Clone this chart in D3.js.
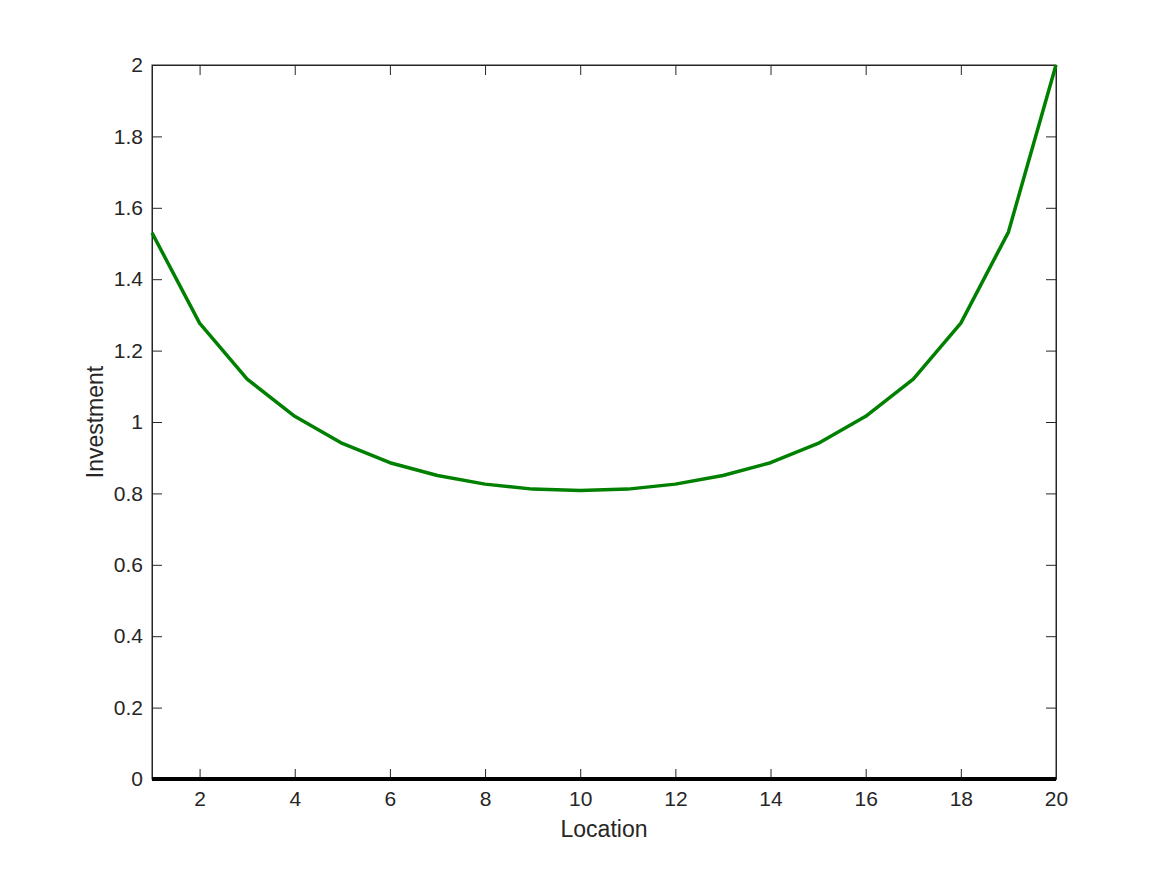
<!DOCTYPE html>
<html>
<head>
<meta charset="utf-8">
<script src="https://d3js.org/d3.v7.min.js"></script>
<style>
  html, body { margin: 0; padding: 0; background: #fff; }
  svg { display: block; }
  text { font-family: "Liberation Sans", Arial, Helvetica, sans-serif; fill: #262626; }
</style>
</head>
<body>
<script>
const locations = d3.range(1, 21);
const investment = [1.530, 1.277, 1.120, 1.016, 0.940, 0.886, 0.850, 0.826, 0.812, 0.808,
                    0.812, 0.826, 0.850, 0.886, 0.940, 1.016, 1.120, 1.277, 1.532, 2.000];
const baseline = locations.map(() => 0);
const xTicks = [2, 4, 6, 8, 10, 12, 14, 16, 18, 20];
const yTicks = [0, 0.2, 0.4, 0.6, 0.8, 1, 1.2, 1.4, 1.6, 1.8, 2];
const xLabel = "Location";
const yLabel = "Investment";

const W = 1167, H = 875;
const m = { left: 152, right: 1056, top: 65, bottom: 779 };

const svg = d3.select("body").append("svg").attr("width", W).attr("height", H);

const x = d3.scaleLinear().domain([1, 20]).range([m.left, m.right]);
const y = d3.scaleLinear().domain([0, 2]).range([m.bottom, m.top]);

const axisColor = "#262626";
const tickLen = 10;
const fs = 21;
const lfs = 23;

svg.append("rect")
  .attr("x", m.left).attr("y", m.top)
  .attr("width", m.right - m.left).attr("height", m.bottom - m.top)
  .attr("fill", "none").attr("stroke", axisColor).attr("stroke-width", 1);

const xAxis = d3.axisBottom(x).tickValues(xTicks).tickSizeInner(-tickLen).tickSizeOuter(0).tickPadding(12)
  .tickFormat(d3.format("d"));
const gx = svg.append("g").attr("transform", `translate(0,${m.bottom})`).call(xAxis);
const gxt = svg.append("g").attr("transform", `translate(0,${m.top})`)
  .call(d3.axisTop(x).tickValues(xTicks).tickSizeInner(-tickLen).tickSizeOuter(0).tickFormat(""));
const yAxis = d3.axisLeft(y).tickValues(yTicks).tickSizeInner(-tickLen).tickSizeOuter(0).tickPadding(9)
  .tickFormat(d => d3.format("")(+d.toFixed(1)));
const gy = svg.append("g").attr("transform", `translate(${m.left},0)`).call(yAxis);
const gyr = svg.append("g").attr("transform", `translate(${m.right},0)`)
  .call(d3.axisRight(y).tickValues(yTicks).tickSizeInner(-tickLen).tickSizeOuter(0).tickFormat(""));

[gx, gxt, gy, gyr].forEach(g => {
  g.attr("font-size", null).attr("font-family", null);
  g.select(".domain").attr("stroke", axisColor);
  g.selectAll(".tick line").attr("stroke", axisColor).attr("stroke-width", 1);
  g.selectAll(".tick text")
    .style("font-family", '"Liberation Sans", Arial, sans-serif')
    .style("font-size", fs + "px").style("fill", axisColor);
});
gx.selectAll(".tick text").attr("dy", "0.71em");

const line = d3.line().x((d, i) => x(locations[i])).y(d => y(d));

svg.append("path").datum(baseline)
  .attr("d", line).attr("fill", "none").attr("stroke", "#000").attr("stroke-width", 4);

svg.append("path").datum(investment)
  .attr("d", line).attr("fill", "none").attr("stroke", "#008000").attr("stroke-width", 3.5)
  .attr("stroke-linejoin", "round");

svg.append("text")
  .attr("x", (m.left + m.right) / 2).attr("y", 837)
  .attr("text-anchor", "middle").style("font-size", lfs + "px")
  .text(xLabel);

svg.append("text")
  .attr("transform", `translate(103,${(m.top + m.bottom) / 2}) rotate(-90)`)
  .attr("text-anchor", "middle").style("font-size", lfs + "px")
  .text(yLabel);
</script>
</body>
</html>
